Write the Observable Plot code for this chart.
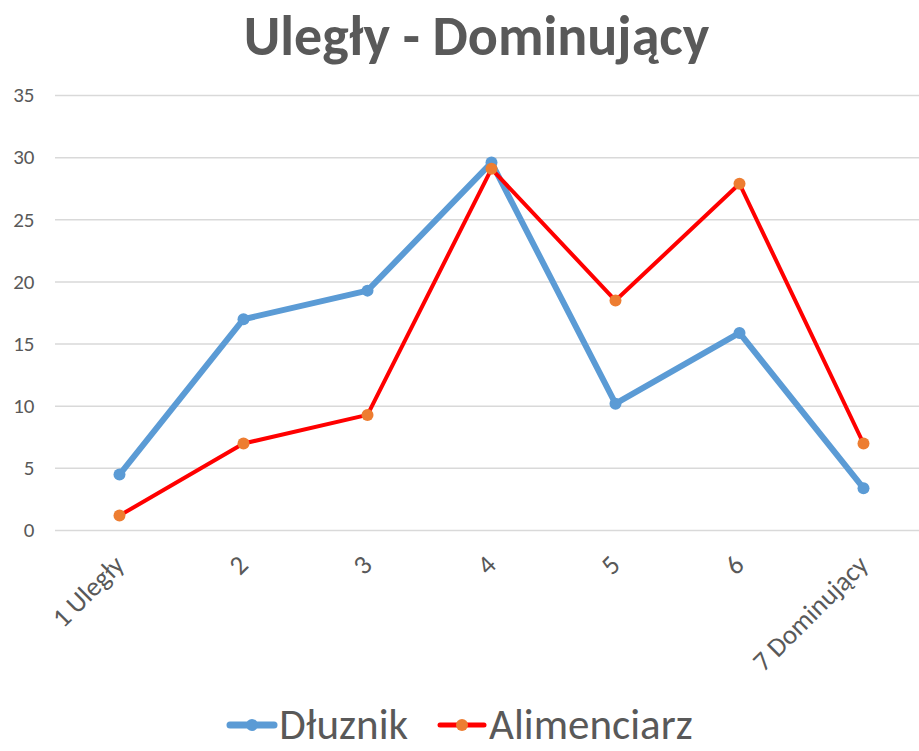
<!DOCTYPE html>
<html><head><meta charset="utf-8">
<script src="https://cdn.jsdelivr.net/npm/d3@7"></script>
<script src="https://cdn.jsdelivr.net/npm/@observablehq/plot@0.6"></script>
<style>
body{margin:0;background:#fff;width:919px;height:751px;overflow:hidden;font-family:"Carlito","Open Sans",sans-serif;color:#595959}
#title{height:80px;box-sizing:border-box;padding-left:34px;text-align:center;font-weight:bold;font-size:56px;line-height:72px;white-space:nowrap}
#chart{height:618px}
#legend{height:53px;display:flex;justify-content:center;align-items:flex-start;font-size:43px;line-height:normal;white-space:nowrap}
.item{display:flex;align-items:center;margin:0 14px}
.item svg{margin-right:1px}
</style></head><body>
<div id="title">Uległy - Dominujący</div>
<div id="chart"></div>
<div id="legend"></div>
<script>
const categories = ["1 Uległy","2","3","4","5","6","7 Dominujący"];
const dluznik = [4.5,17.0,19.3,29.6,10.2,15.9,3.4];
const alimenciarz = [1.2,7.0,9.3,29.1,18.5,27.9,7.0];
const yTicks = [0,5,10,15,20,25,30,35];
const seriesNames = ["Dłuznik","Alimenciarz"];
const lineColors = ["#5b9bd5","#ff0000"];
const markerColors = ["#5b9bd5","#ed7d31"];
const lineWidths = [6,4];

const data = [];
[dluznik, alimenciarz].forEach((vals, s) => vals.forEach((v, i) => data.push({series: seriesNames[s], cat: categories[i], value: v})));

const chart = Plot.plot({
  width: 919, height: 618,
  marginLeft: 55, marginRight: 0, marginTop: 15, marginBottom: 168,
  style: {fontFamily: "Carlito, Open Sans, sans-serif", color: "#595959", background: "#fff"},
  x: {type: "point", domain: categories, range: [117, 865], padding: 0},
  y: {domain: [0, 35], ticks: yTicks},
  marks: [
    Plot.gridY(yTicks.slice(1), {stroke: "#d9d9d9", strokeOpacity: 1, strokeWidth: 1.5}),
    Plot.ruleY([0], {stroke: "#d9d9d9", strokeWidth: 1.5}),
    Plot.axisY({ticks: yTicks, tickSize: 0, tickPadding: 21, fontSize: 21, label: null, fill: "#595959"}),
    Plot.axisX({tickSize: 0, tickPadding: 30, tickRotate: -45, fontSize: 27, label: null, fill: "#595959"}),
    ...seriesNames.map((name, s) => Plot.line(data.filter(d => d.series === name), {x: "cat", y: "value", stroke: lineColors[s], strokeWidth: lineWidths[s], strokeLinejoin: "round"})),
    ...seriesNames.map((name, s) => Plot.dot(data.filter(d => d.series === name), {x: "cat", y: "value", fill: markerColors[s], r: 6, stroke: "none"}))
  ]
});
document.getElementById("chart").appendChild(chart);

const legend = document.getElementById("legend");
seriesNames.forEach((name, s) => {
  const item = document.createElement("div");
  item.className = "item";
  item.innerHTML = `<svg width="52" height="20"><line x1="4" x2="48" y1="10" y2="10" stroke="${lineColors[s]}" stroke-width="${lineWidths[s]+1}" stroke-linecap="round"/><circle cx="26" cy="10" r="6" fill="${markerColors[s]}"/></svg><span>${name}</span>`;
  legend.appendChild(item);
});
</script>
</body></html>
